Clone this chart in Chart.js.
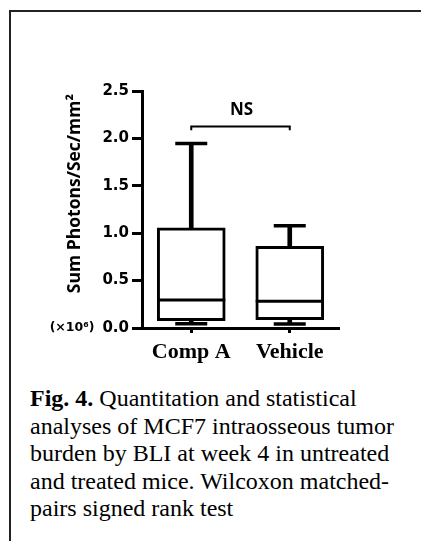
<!DOCTYPE html>
<html>
<head>
<meta charset="utf-8">
<script src="https://cdn.jsdelivr.net/npm/chart.js@4.4.1/dist/chart.umd.min.js"></script>
<style>
  html, body { margin: 0; padding: 0; background: #fff; }
  body { position: relative; width: 421px; height: 541px; overflow: hidden; }
  #ftop { position: absolute; left: 9px; top: 10px; width: 412px; height: 2px; background: #222; }
  #fleft { position: absolute; left: 9px; top: 10px; width: 2px; height: 531px; background: #222; }
  #wrap { position: absolute; left: 0; top: 0; width: 421px; height: 380px; }
  #caption { position: absolute; left: 30px; top: 385px; font-family: 'Liberation Serif', 'Times New Roman', serif;
             font-size: 24px; line-height: 27.6px; color: #000; white-space: nowrap; }
</style>
</head>
<body>
<div id="ftop"></div>
<div id="fleft"></div>
<div id="wrap"><canvas id="c" width="421" height="380"></canvas></div>
<div id="caption"><b>Fig. 4.</b> Quantitation and statistical<br>analyses of MCF7 intraosseous tumor<br>burden by BLI at week 4 in untreated<br>and treated mice. Wilcoxon matched-<br>pairs signed rank test</div>
<script>
// ---- data ----
const categories = ['Comp A', 'Vehicle'];
const whiskerMin = [0.045, 0.042];
const q1 = [0.077, 0.087];
const median = [0.295, 0.281];
const q3 = [1.057, 0.861];
const whiskerMax = [1.945, 1.078];
const yTicks = [0, 0.5, 1.0, 1.5, 2.0, 2.5];
const yTitle = 'Sum Photons/Sec/mm\u00B2\u2009';
const yUnit = '(\u00D710\u2076)';
const sigLabel = 'NS';
const bracketTop = 2.125;
const bracketFoot = 2.086;
const sigLabelY = 2.30;

const boxes = categories.map((c, i) => [q1[i], q3[i]]);
const upperWhisker = categories.map((c, i) => [q3[i], whiskerMax[i]]);
const lowerWhisker = categories.map((c, i) => [whiskerMin[i], q1[i]]);
const bracket = [
  {x: categories[0], y: bracketFoot}, {x: categories[0], y: bracketTop},
  {x: categories[1], y: bracketTop}, {x: categories[1], y: bracketFoot}
];

const annot = {
  id: 'annot',
  afterDraw(chart) {
    const {ctx, scales: {x, y}} = chart;
    ctx.save();
    ctx.fillStyle = '#000';
    ctx.font = "bold 17px 'Open Sans'";
    ctx.textAlign = 'center';
    ctx.textBaseline = 'middle';
    const xm = (x.getPixelForValue(0) + x.getPixelForValue(1)) / 2 + 1;
    ctx.fillText(sigLabel, xm, y.getPixelForValue(sigLabelY));
    ctx.font = "bold 15px 'DejaVu Sans'";
    const w = ctx.measureText('0.0').width;
    ctx.font = "bold 12.5px 'DejaVu Sans'";
    ctx.textAlign = 'right';
    ctx.fillText(yUnit, y.right - 13 - w - 8, y.getPixelForValue(0));
    ctx.restore();
  }
};

Chart.defaults.color = '#000';
new Chart(document.getElementById('c'), {
  type: 'bar',
  data: {
    labels: categories,
    datasets: [
      { type: 'line', data: bracket, borderColor: '#000', borderWidth: 2, pointRadius: 0, tension: 0, fill: false, order: 0 },
      { type: 'line', data: median, showLine: false, pointStyle: 'line', pointRadius: 34, pointBorderWidth: 3,
        pointBorderColor: '#000', pointBackgroundColor: '#000', order: 1 },
      { type: 'line', data: whiskerMax, showLine: false, pointStyle: 'line', pointRadius: 16, pointBorderWidth: 3.5,
        pointBorderColor: '#000', pointBackgroundColor: '#000', order: 1 },
      { type: 'line', data: whiskerMin, showLine: false, pointStyle: 'line', pointRadius: 16, pointBorderWidth: 3.5,
        pointBorderColor: '#000', pointBackgroundColor: '#000', order: 1 },
      { type: 'bar', data: boxes, backgroundColor: '#fff', borderColor: '#000', borderWidth: 3,
        borderSkipped: false, barThickness: 68, grouped: false, order: 2 },
      { type: 'bar', data: upperWhisker, backgroundColor: '#000', borderWidth: 0,
        barThickness: 4, grouped: false, order: 3 },
      { type: 'bar', data: lowerWhisker, backgroundColor: '#000', borderWidth: 0,
        barThickness: 4, grouped: false, order: 3 }
    ]
  },
  options: {
    responsive: false,
    animation: false,
    devicePixelRatio: 1,
    layout: { padding: { top: 91, right: 82, left: 0, bottom: 0 } },
    plugins: { legend: { display: false }, tooltip: { enabled: false } },
    scales: {
      x: {
        type: 'category',
        offset: true,
        grid: { display: true, offset: false, drawOnChartArea: false, drawTicks: true, tickLength: 5, tickWidth: 3, tickColor: '#000' },
        border: { display: true, width: 3, color: '#000' },
        ticks: { maxRotation: 0, padding: 6, color: '#000', font: { family: "'Liberation Serif'", size: 22, weight: 'bold' } },
        afterFit(s) { s.height = 52; }
      },
      y: {
        min: 0, max: 2.5,
        afterBuildTicks(s) { s.ticks = yTicks.map(v => ({ value: v })); },
        grid: { drawOnChartArea: false, drawTicks: true, tickLength: 10, tickWidth: 3, tickColor: '#000' },
        border: { display: true, width: 3, color: '#000' },
        ticks: { padding: 3, color: '#000', font: { family: "'DejaVu Sans'", size: 15, weight: 'bold' },
                 callback: v => Number(v).toFixed(1) },
        title: { display: true, text: yTitle, align: 'end', color: '#000',
                 font: { family: "'Open Sans'", size: 17.5, weight: 'bold' }, padding: { top: 65, bottom: 0 } },
        afterFit(s) { s.width = 142; }
      }
    }
  },
  plugins: [annot]
});
</script>
</body>
</html>
